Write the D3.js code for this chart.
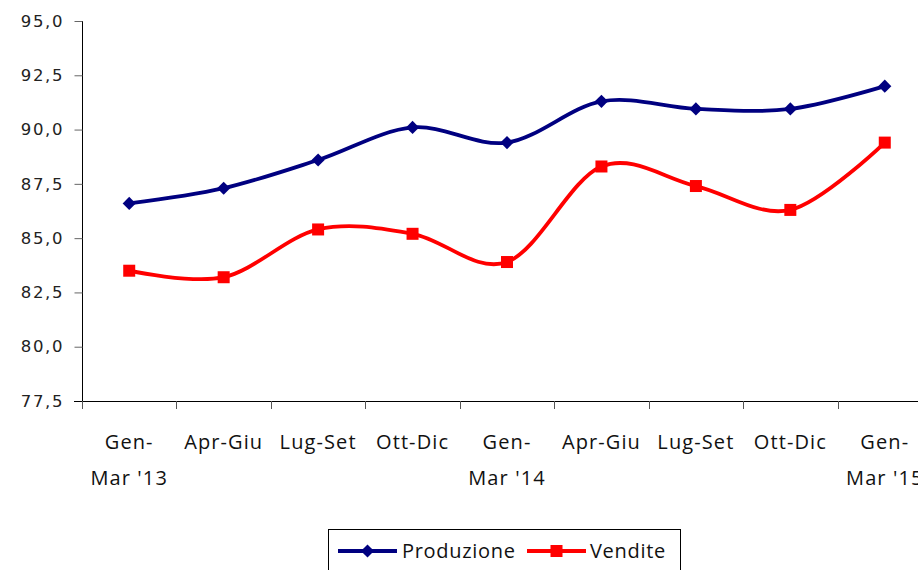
<!DOCTYPE html>
<html>
<head>
<meta charset="utf-8">
<script src="https://cdn.jsdelivr.net/npm/d3@7"></script>
<style>
  body { margin: 0; background: #fff; }
  .y-axis text { font-family: "DejaVu Sans", sans-serif; font-size: 16.5px; letter-spacing: 1.6px; fill: #222; }
  .x-label { font-family: "Open Sans", sans-serif; font-size: 20px; letter-spacing: 1.1px; fill: #111; }
  .legend text { font-family: "Open Sans", sans-serif; font-size: 20px; letter-spacing: 0.7px; fill: #111; }
</style>
</head>
<body>
<div id="chart"></div>
<script>
const categories = [
  ['Gen-', "Mar '13"], ['Apr-Giu'], ['Lug-Set'], ['Ott-Dic'],
  ['Gen-', "Mar '14"], ['Apr-Giu'], ['Lug-Set'], ['Ott-Dic'],
  ['Gen-', "Mar '15"]
];
const produzione = [86.6, 87.3, 88.6, 90.1, 89.4, 91.3, 90.95, 90.95, 92.0];
const vendite = [83.5, 83.2, 85.4, 85.2, 83.9, 88.3, 87.4, 86.3, 89.4];
const yTicks = [77.5, 80, 82.5, 85, 87.5, 90, 92.5, 95];

const series = [
  { name: 'Produzione', values: produzione, color: '#000080', marker: 'diamond' },
  { name: 'Vendite', values: vendite, color: '#ff0000', marker: 'square' }
];

const width = 918, height = 570;
const margin = { left: 82, right: 932, top: 21, bottom: 401 };

const svg = d3.select('#chart')
  .append('svg')
  .attr('width', width)
  .attr('height', height);

const x = d3.scaleBand()
  .domain(d3.range(categories.length))
  .range([margin.left, margin.right]);

const y = d3.scaleLinear()
  .domain([77.5, 95])
  .range([margin.bottom, margin.top]);

// y axis
const yAxis = d3.axisLeft(y)
  .tickValues(yTicks)
  .tickSize(8)
  .tickPadding(10)
  .tickFormat(d => d3.format('.1f')(d).replace('.', ','));

svg.append('g')
  .attr('class', 'y-axis')
  .attr('transform', 'translate(' + margin.left + ',0)')
  .call(yAxis)
  .call(g => g.select('.domain').attr('stroke', '#000').attr('d', 'M0.5,' + margin.top + 'V' + margin.bottom))
  .call(g => g.selectAll('.tick line').attr('stroke', '#666').attr('transform', 'translate(0.5,0)'));

// x axis line and ticks at band edges
const xg = svg.append('g').attr('class', 'x-axis');
xg.append('line')
  .attr('x1', margin.left - 8).attr('x2', width)
  .attr('y1', margin.bottom + 0.5).attr('y2', margin.bottom + 0.5)
  .attr('stroke', '#000');

xg.selectAll('.xtick')
  .data(d3.range(categories.length))
  .enter().append('line')
    .attr('class', 'xtick')
    .attr('x1', d => Math.round(x(d)) + 0.5)
    .attr('x2', d => Math.round(x(d)) + 0.5)
    .attr('y1', margin.bottom)
    .attr('y2', margin.bottom + 8)
    .attr('stroke', '#555');

const labels = xg.selectAll('.x-label')
  .data(categories)
  .enter().append('text')
    .attr('class', 'x-label')
    .attr('text-anchor', 'middle')
    .attr('transform', (d, i) => 'translate(' + (x(i) + x.bandwidth() / 2) + ',' + 449 + ')');

labels.selectAll('tspan')
  .data(d => d)
  .enter().append('tspan')
    .attr('x', 0)
    .attr('dy', (d, i) => i === 0 ? 0 : 36)
    .text(d => d);

// lines
const line = d3.line()
  .x((d, i) => x(i) + x.bandwidth() / 2)
  .y(d => y(d))
  .curve(d3.curveCatmullRom.alpha(0));

const diamond = d3.symbol().type(d3.symbolDiamond2).size(110);

series.forEach(s => {
  svg.append('path')
    .datum(s.values)
    .attr('fill', 'none')
    .attr('stroke', s.color)
    .attr('stroke-width', 3.8)
    .attr('d', line);

  const pts = svg.selectAll('.pt-' + s.marker)
    .data(s.values)
    .enter().append('g')
      .attr('class', 'pt-' + s.marker)
      .attr('transform', (d, i) => 'translate(' + (x(i) + x.bandwidth() / 2) + ',' + y(d) + ')');

  if (s.marker === 'diamond') {
    pts.append('path').attr('d', diamond).attr('fill', s.color);
  } else {
    pts.append('rect')
      .attr('x', -6).attr('y', -6)
      .attr('width', 12).attr('height', 12)
      .attr('fill', s.color);
  }
});

// legend
const legend = svg.append('g').attr('class', 'legend');
legend.append('rect')
  .attr('x', 328.5).attr('y', 529.5)
  .attr('width', 352).attr('height', 50)
  .attr('fill', '#fff')
  .attr('stroke', '#000');

const legendItems = [
  { s: series[0], x0: 338, tx: 402 },
  { s: series[1], x0: 527, tx: 590 }
];

legendItems.forEach(it => {
  const ly = 551;
  legend.append('line')
    .attr('x1', it.x0).attr('x2', it.x0 + 59)
    .attr('y1', ly).attr('y2', ly)
    .attr('stroke', it.s.color)
    .attr('stroke-width', 3.8);
  if (it.s.marker === 'diamond') {
    legend.append('path')
      .attr('d', diamond)
      .attr('transform', 'translate(' + (it.x0 + 29.5) + ',' + ly + ')')
      .attr('fill', it.s.color);
  } else {
    legend.append('rect')
      .attr('x', it.x0 + 23.5).attr('y', ly - 6)
      .attr('width', 12).attr('height', 12)
      .attr('fill', it.s.color);
  }
  legend.append('text')
    .attr('x', it.tx)
    .attr('y', ly + 7)
    .text(it.s.name);
});
</script>
</body>
</html>
